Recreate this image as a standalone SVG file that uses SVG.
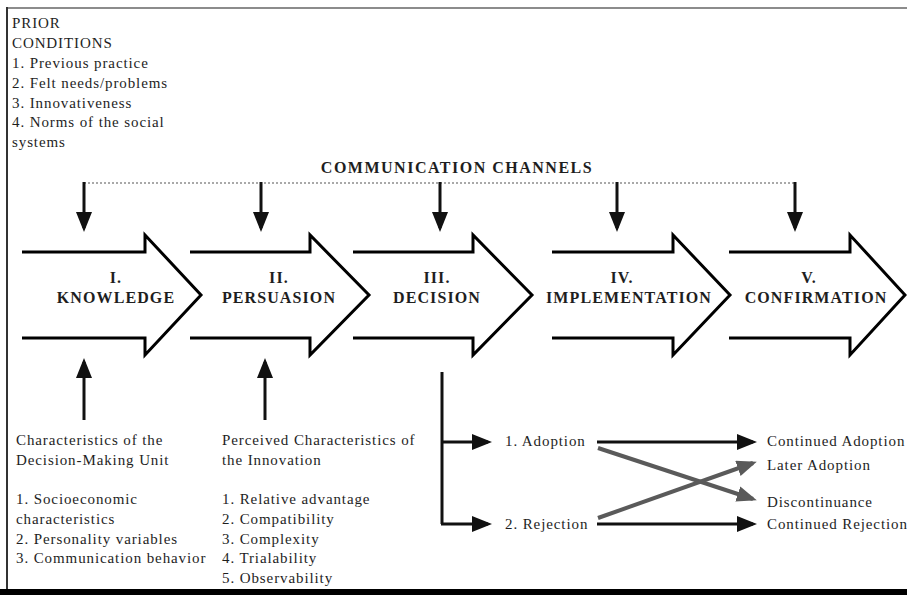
<svg xmlns="http://www.w3.org/2000/svg" width="907" height="595" viewBox="0 0 907 595">
<style>
.t{font-family:"Liberation Serif","Times New Roman",serif;font-size:15px;fill:#1e1e1e;letter-spacing:0.9px}
.h{font-family:"Liberation Serif","Times New Roman",serif;font-size:16px;font-weight:bold;fill:#1e1e1e;letter-spacing:1.1px;text-anchor:middle}
.stage{fill:none;stroke:#000;stroke-width:3;stroke-linejoin:miter}
.blk{stroke:#111;stroke-width:3;fill:none}
.gry{stroke:#5a5a5a;stroke-width:4;fill:none}
</style>
<defs>
<marker id="ab" markerUnits="userSpaceOnUse" markerWidth="20" markerHeight="16" viewBox="0 0 20 16" refX="16" refY="8" orient="auto">
<path d="M0,0 L20,8 L0,16 z" fill="#111"/>
</marker>
<marker id="ag" markerUnits="userSpaceOnUse" markerWidth="20" markerHeight="16" viewBox="0 0 20 16" refX="16" refY="8" orient="auto">
<path d="M0,0 L20,8 L0,16 z" fill="#5a5a5a"/>
</marker>
</defs>
<rect width="907" height="595" fill="#fff"/>
<g id="frame">
<line x1="7" y1="8" x2="907" y2="8" stroke="#666" stroke-width="1.5"/>
<line x1="7" y1="7" x2="7" y2="590" stroke="#333" stroke-width="2"/>
<rect x="0" y="589" width="907" height="6" fill="#000"/>
</g>
<g id="prior">
<text class="t" x="12" y="28">PRIOR</text>
<text class="t" x="12" y="48">CONDITIONS</text>
<text class="t" x="12" y="68">1. Previous practice</text>
<text class="t" x="12" y="88">2. Felt needs/problems</text>
<text class="t" x="12" y="108">3. Innovativeness</text>
<text class="t" x="12" y="127">4. Norms of the social</text>
<text class="t" x="12" y="147">systems</text>
</g>
<g id="channels">
<text class="h" x="457" y="173" style="letter-spacing:1.5px">COMMUNICATION CHANNELS</text>
</g>
<g id="stage1">
<path class="stage" d="M22,252 H145 V235 L201,295 L145,355 V338 H22"/>
<text class="h" x="116" y="283">I.</text>
<text class="h" x="116" y="303">KNOWLEDGE</text>
</g>
<g id="stage2">
<path class="stage" d="M190,252 H310 V235 L369,295 L310,355 V338 H190"/>
<text class="h" x="279" y="283">II.</text>
<text class="h" x="279" y="303">PERSUASION</text>
</g>
<g id="stage3">
<path class="stage" d="M353,252 H473 V235 L532,295 L473,355 V338 H353"/>
<text class="h" x="437" y="283">III.</text>
<text class="h" x="437" y="303">DECISION</text>
</g>
<g id="stage4">
<path class="stage" d="M552,252 H673 V235 L730,295 L673,355 V338 H552"/>
<text class="h" x="622" y="283">IV.</text>
<text class="h" x="629" y="303">IMPLEMENTATION</text>
</g>
<g id="stage5">
<path class="stage" d="M729,252 H850 V235 L905,295 L850,355 V338 H729"/>
<text class="h" x="809" y="283">V.</text>
<text class="h" x="816" y="303">CONFIRMATION</text>
</g>
<g id="unit">
<text class="t" x="16" y="445">Characteristics of the</text>
<text class="t" x="16" y="465">Decision-Making Unit</text>
<text class="t" x="16" y="504">1. Socioeconomic</text>
<text class="t" x="16" y="524">characteristics</text>
<text class="t" x="16" y="544">2. Personality variables</text>
<text class="t" x="16" y="563">3. Communication behavior</text>
</g>
<g id="perceived">
<text class="t" x="222" y="445">Perceived Characteristics of</text>
<text class="t" x="222" y="465">the Innovation</text>
<text class="t" x="222" y="504">1. Relative advantage</text>
<text class="t" x="222" y="524">2. Compatibility</text>
<text class="t" x="222" y="544">3. Complexity</text>
<text class="t" x="222" y="563">4. Trialability</text>
<text class="t" x="222" y="583">5. Observability</text>
</g>
<g id="adoption"><text class="t" x="505" y="446">1. Adoption</text></g>
<g id="rejection"><text class="t" x="505" y="529">2. Rejection</text></g>
<g id="outcomes">
<text class="t" x="767" y="446">Continued Adoption</text>
<text class="t" x="767" y="470">Later Adoption</text>
<text class="t" x="767" y="507">Discontinuance</text>
<text class="t" x="767" y="529">Continued Rejection</text>
</g>
<g id="connectors">
<line x1="84" y1="183" x2="795" y2="183" stroke="#555" stroke-width="1.2" stroke-dasharray="2,2"/>
<line class="blk" x1="84" y1="182" x2="84" y2="228" marker-end="url(#ab)"/>
<line class="blk" x1="261" y1="182" x2="261" y2="228" marker-end="url(#ab)"/>
<line class="blk" x1="440" y1="182" x2="440" y2="228" marker-end="url(#ab)"/>
<line class="blk" x1="617" y1="182" x2="617" y2="228" marker-end="url(#ab)"/>
<line class="blk" x1="795" y1="182" x2="795" y2="228" marker-end="url(#ab)"/>
<line class="blk" x1="84" y1="420" x2="84" y2="362" marker-end="url(#ab)"/>
<line class="blk" x1="265" y1="420" x2="265" y2="362" marker-end="url(#ab)"/>
<path class="blk" d="M442,372 V524"/>
<line class="blk" x1="441" y1="442" x2="488" y2="442" marker-end="url(#ab)"/>
<line class="blk" x1="441" y1="524" x2="488" y2="524" marker-end="url(#ab)"/>
<line class="blk" x1="597" y1="442" x2="753" y2="442" marker-end="url(#ab)"/>
<line class="blk" x1="597" y1="524" x2="753" y2="524" marker-end="url(#ab)"/>
<line class="gry" x1="598" y1="448" x2="753" y2="499" marker-end="url(#ag)"/>
<line class="gry" x1="598" y1="518" x2="753" y2="463" marker-end="url(#ag)"/>
</g>
</svg>
